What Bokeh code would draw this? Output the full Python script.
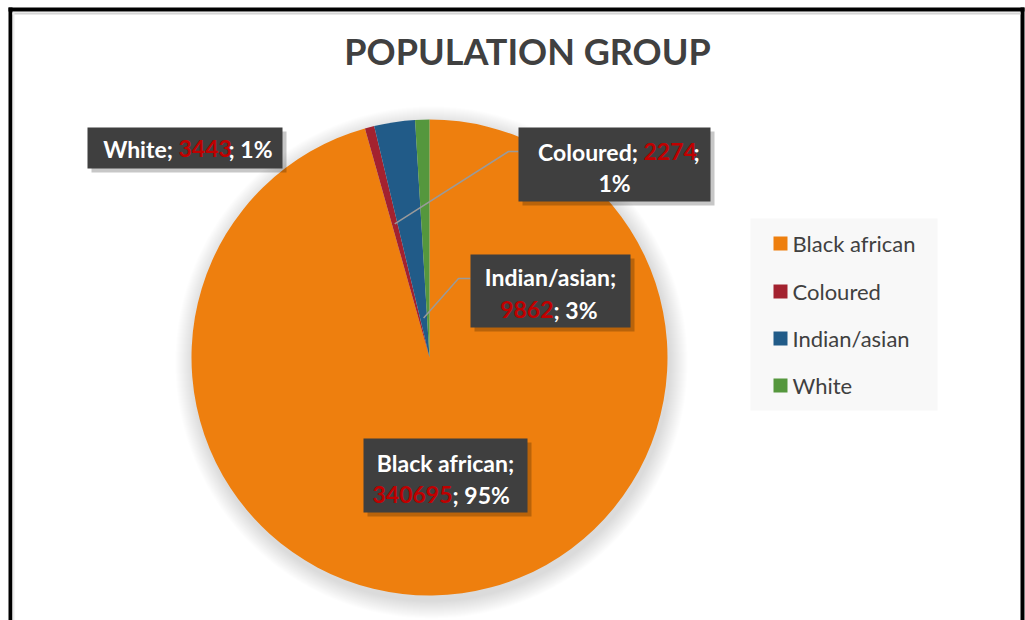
import math
from bokeh.plotting import figure
from bokeh.models import Range1d, ColumnDataSource
from bokeh.core.properties import value
from bokeh.embed import file_html
from bokeh.resources import INLINE

# ---- data ----
categories = ["Black african", "Coloured", "Indian/asian", "White"]
counts = [340695, 2274, 9862, 3443]
percent_labels = ["95%", "1%", "3%", "1%"]
colors = ["#EE7F0E", "#A3222F", "#215B88", "#55973D"]
title_text = "POPULATION GROUP"

W, H = 1025, 620
FONT = "Lato"
def Y(py):  # pixel-from-top -> data y
    return H - py

p = figure(width=W, height=H, x_range=Range1d(0, W), y_range=Range1d(0, H),
           output_backend="svg", toolbar_location=None, min_border=0)
p.axis.visible = False
p.grid.visible = False
p.outline_line_color = None
p.background_fill_color = "white"
p.border_fill_color = "white"

# ---- outer frame ----
p.quad(left=[8], right=[1024], top=[Y(7)], bottom=[Y(11)], fill_color="black", line_color=None)
p.quad(left=[8], right=[12], top=[Y(7)], bottom=[Y(620)], fill_color="black", line_color=None)
p.quad(left=[1020], right=[1024], top=[Y(7)], bottom=[Y(620)], fill_color="black", line_color=None)
p.quad(left=[12], right=[1020], top=[Y(12)], bottom=[Y(14)], fill_color="#d4d4d4", line_color=None)
p.quad(left=[12], right=[14], top=[Y(12)], bottom=[Y(620)], fill_color="#ececec", line_color=None)

# ---- title ----
p.text(x=[527], y=[Y(50)], text=[title_text], text_font=value(FONT), text_font_style="bold",
       text_font_size="36px", text_color="#404040", text_align="center", text_baseline="middle")

# ---- pie ----
cx, cy, r = 429, Y(357), 238
total = sum(counts)
fr = [c / total for c in counts]
cum = [0.0]
for f in fr:
    cum.append(cum[-1] + f)
starts = [math.pi / 2 - 2 * math.pi * cum[i + 1] for i in range(len(counts))]
ends = [math.pi / 2 - 2 * math.pi * cum[i] for i in range(len(counts))]

# soft shadow
for k in range(18):
    p.circle(x=[cx + 2], y=[cy - 5], radius=r + 18 - k, fill_color="#808080",
             fill_alpha=0.014, line_color=None)

src = ColumnDataSource(dict(start=starts, end=ends, color=colors, name=categories))
p.wedge(x=cx, y=cy, radius=r, start_angle="start", end_angle="end",
        fill_color="color", line_color=None, source=src)

# leader lines
def mid_point(i, dist):
    m = (cum[i] + cum[i + 1]) / 2
    a = math.pi / 2 - 2 * math.pi * m
    return cx + dist * math.cos(a), cy + dist * math.sin(a)

x0, y0 = mid_point(1, 138)
p.line(x=[x0, 508, 518], y=[y0, Y(151), Y(151)], line_color="#9a9a9a", line_width=1.5)
x1, y1 = mid_point(2, 40)
p.line(x=[x1, 458, 470], y=[y1, Y(278), Y(278)], line_color="#9a9a9a", line_width=1.5)

# ---- data label boxes ----
boxes = [(87, 282, 127, 168), (518, 710, 127, 201), (470, 630, 254, 327), (363, 527, 438, 512)]
for (l, rr, t, b) in boxes:
    p.quad(left=[l + 4], right=[rr + 4], top=[Y(t + 4)], bottom=[Y(b + 4)],
           fill_color="#000000", fill_alpha=0.22, line_color=None)
for (l, rr, t, b) in boxes:
    p.quad(left=[l], right=[rr], top=[Y(t)], bottom=[Y(b)],
           fill_color="#3f3f3f", line_color=None)

LS = "23px"
def seg(x, py, s, color="white", align="left"):
    p.text(x=[x], y=[Y(py)], text=[s], text_font=value(FONT), text_font_style="bold",
           text_font_size=LS, text_color=color, text_align=align, text_baseline="middle")

RED = "#C00000"
# White
seg(178, 148, categories[3] + "; ", align="right")
seg(178, 148, str(counts[3]), RED)
seg(228, 148, "; " + percent_labels[3])
# Coloured
seg(643, 151, categories[1] + "; ", align="right")
seg(643, 151, str(counts[1]), RED)
seg(693, 151, ";")
seg(614, 182, percent_labels[1], align="center")
# Indian/asian
seg(550, 276, categories[2] + ";", align="center")
seg(553, 309, str(counts[2]), RED, align="right")
seg(553, 309, "; " + percent_labels[2])
# Black african
seg(445, 462, categories[0] + ";", align="center")
seg(452, 494, str(counts[0]), RED, align="right")
seg(452, 494, "; " + percent_labels[0])

# ---- legend ----
p.quad(left=[750], right=[937], top=[Y(218)], bottom=[Y(410)], fill_color="#f8f8f8", line_color=None)
leg_y = [243, 291, 338, 385]
p.rect(x=[780] * 4, y=[Y(v) for v in leg_y], width=14, height=14, fill_color=colors, line_color=None)
p.text(x=[792] * 4, y=[Y(v) for v in leg_y], text=categories, text_font=value(FONT),
       text_font_size="22px", text_color="#404040", text_align="left", text_baseline="middle")

open("out.html", "w").write(file_html(p, INLINE))
